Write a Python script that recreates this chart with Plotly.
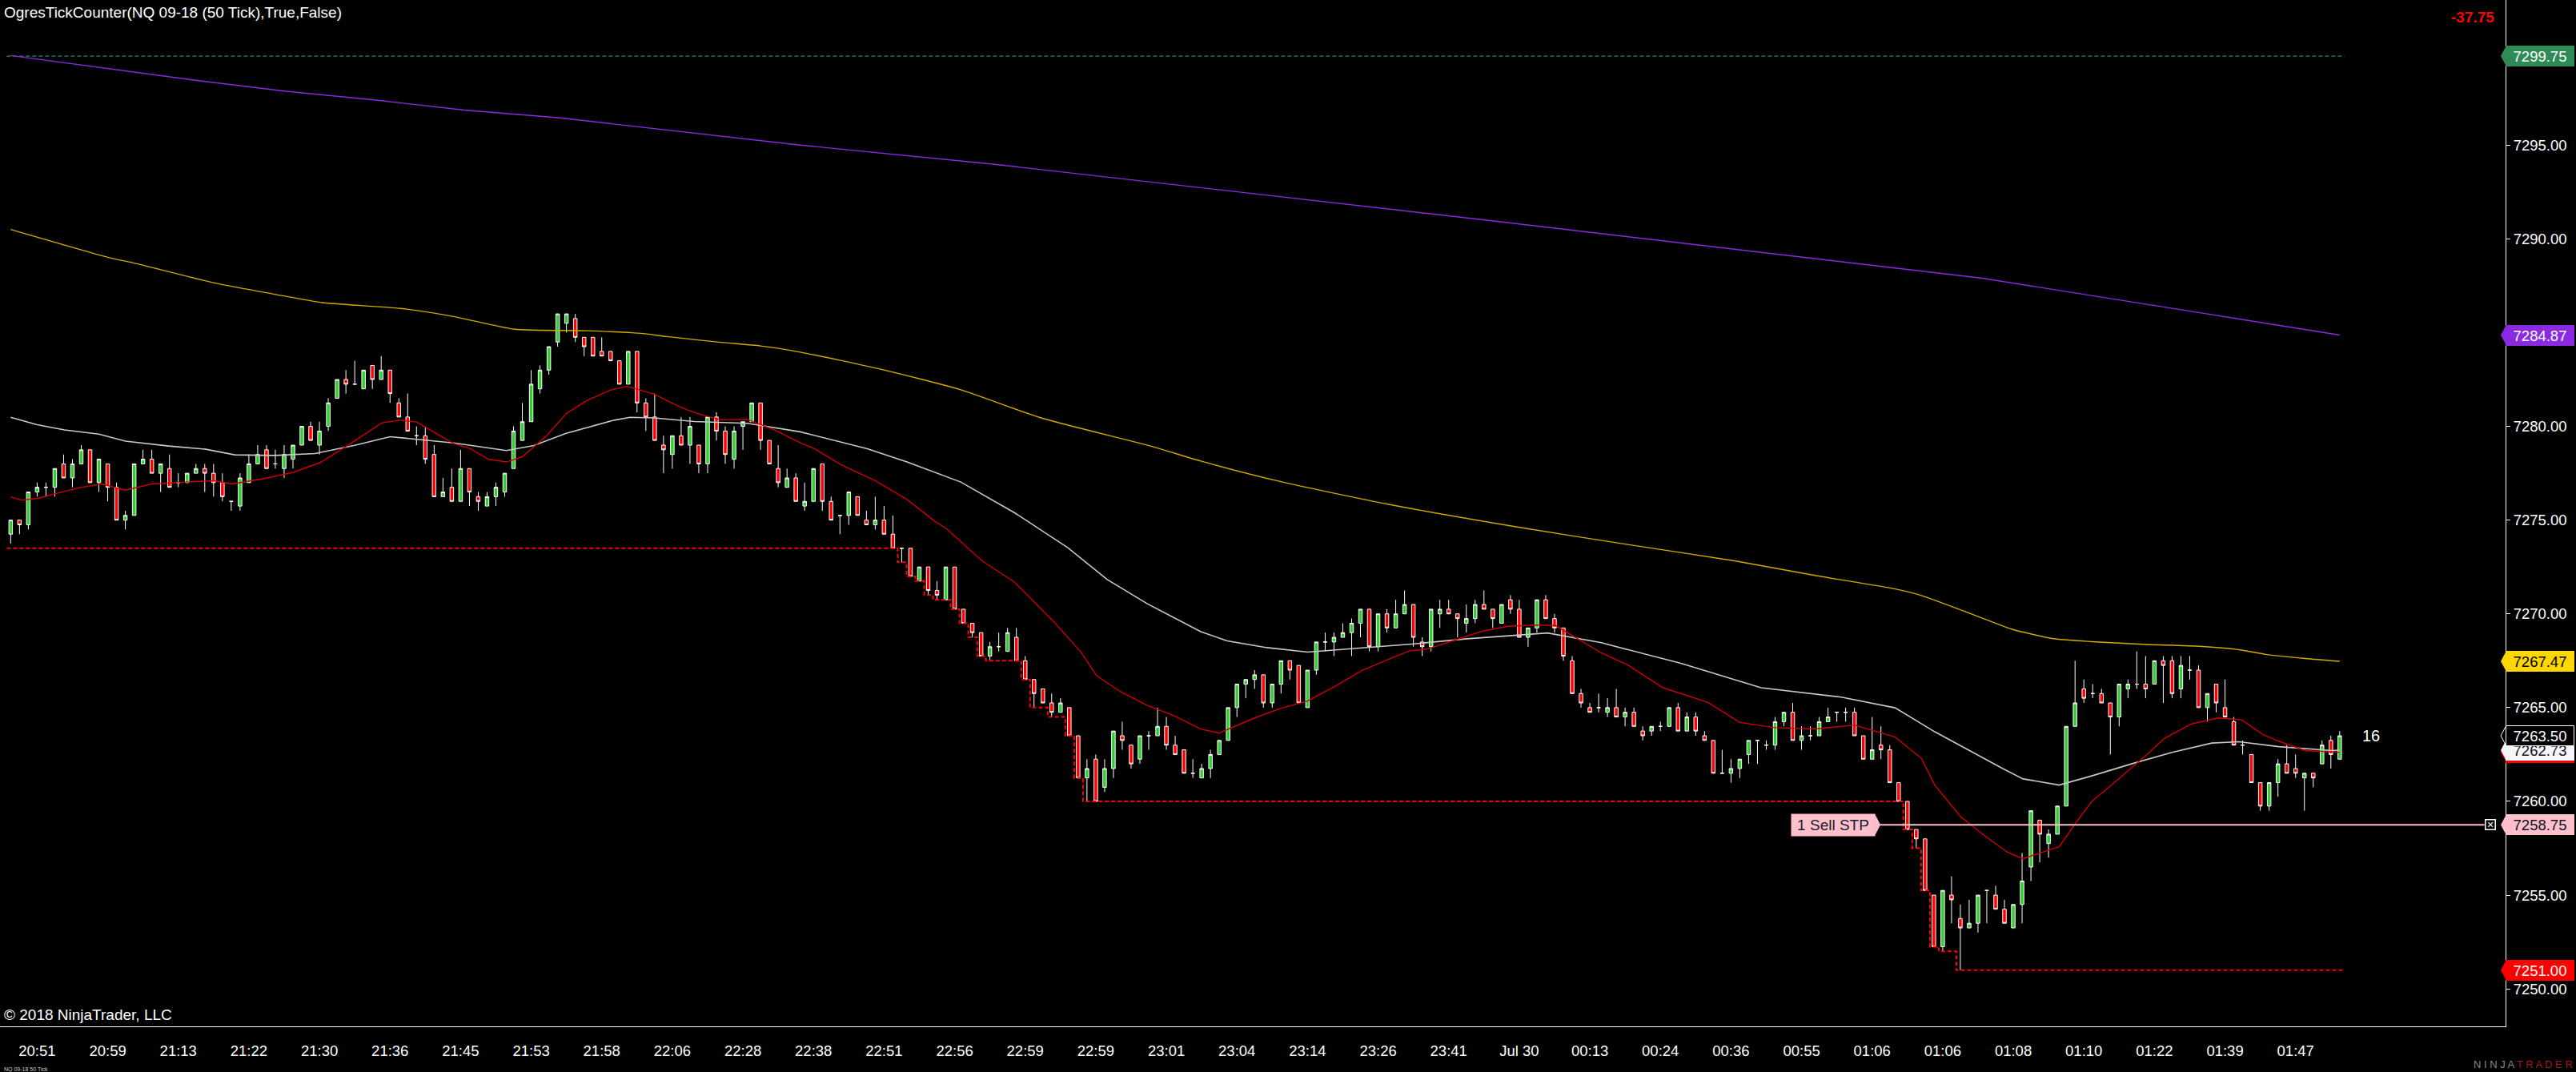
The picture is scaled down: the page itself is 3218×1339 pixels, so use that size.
import plotly.graph_objects as go

FONT = "Arial, Liberation Sans, sans-serif"

# NQ 09-18, 50 tick bars
OPENS = [
    7274.25, 7275.0, 7274.75, 7276.5, 7276.75, 7276.75, 7278.0, 7277.25, 7278.0, 7278.75,
    7277.0, 7278.0, 7276.75, 7275.0, 7275.25, 7278.0, 7278.25, 7277.5, 7277.75, 7277.0,
    7277.0, 7277.5, 7277.75, 7277.5, 7277.0, 7276.0, 7275.75, 7277.0, 7278.0, 7278.75,
    7278.0, 7277.75, 7278.25, 7279.0, 7280.0, 7279.0, 7280.0, 7281.5, 7282.5, 7282.25,
    7282.0, 7283.25, 7282.5, 7283.0, 7281.25, 7280.5, 7279.5, 7279.5, 7278.5, 7276.25,
    7276.75, 7276.0, 7277.75, 7276.25, 7275.75, 7276.25, 7276.5, 7277.75, 7279.25, 7280.25,
    7282.0, 7283.0, 7284.5, 7285.5, 7285.75, 7284.75, 7284.75, 7284.0, 7284.0, 7283.5,
    7282.25, 7284.0, 7281.25, 7280.5, 7279.0, 7278.5, 7279.5, 7279.0, 7279.0, 7278.0,
    7280.5, 7279.75, 7278.25, 7280.0, 7280.25, 7281.25, 7279.25, 7277.75, 7276.75, 7277.25,
    7275.75, 7276.0, 7278.0, 7276.0, 7275.25, 7275.25, 7276.25, 7275.0, 7274.75, 7275.0,
    7274.25, 7273.5, 7273.5, 7271.75, 7272.5, 7271.25, 7270.75, 7272.5, 7270.25, 7269.5,
    7269.0, 7267.75, 7268.25, 7268.0, 7268.75, 7267.5, 7266.5, 7266.0, 7265.25, 7264.75,
    7265.0, 7263.5, 7261.25, 7262.25, 7260.75, 7261.75, 7263.5, 7263.0, 7262.25, 7263.5,
    7263.5, 7264.0, 7263.0, 7262.75, 7261.5, 7261.25, 7261.75, 7262.5, 7263.25, 7265.0,
    7266.25, 7266.5, 7266.75, 7265.25, 7266.25, 7267.5, 7267.25, 7265.0, 7267.0, 7268.5,
    7268.5, 7268.75, 7269.0, 7269.5, 7270.25, 7268.25, 7270.0, 7269.25, 7270.0, 7270.5,
    7268.5, 7268.25, 7270.0, 7270.25, 7270.0, 7269.5, 7269.75, 7270.5, 7270.25, 7269.5,
    7270.75, 7270.25, 7268.75, 7269.25, 7270.75, 7269.75, 7269.25, 7267.5, 7265.75, 7265.0,
    7265.0, 7264.75, 7265.0, 7264.5, 7264.75, 7263.75, 7263.75, 7264.0, 7264.0, 7265.0,
    7263.75, 7264.5, 7263.5, 7263.25, 7261.5, 7261.5, 7261.75, 7262.5, 7263.25, 7263.0,
    7263.0, 7264.25, 7264.75, 7263.25, 7263.5, 7263.5, 7264.25, 7264.75, 7264.75, 7264.75,
    7263.5, 7262.25, 7263.0, 7262.75, 7261.0, 7260.0, 7258.5, 7258.0, 7255.0, 7252.25,
    7255.0, 7253.75, 7253.25, 7253.5, 7255.25, 7255.0, 7254.25, 7253.25, 7254.5, 7256.5,
    7259.0, 7257.75, 7258.25, 7259.75, 7264.0, 7266.0, 7265.75, 7265.75, 7265.25, 7264.5,
    7266.0, 7266.25, 7266.25, 7266.25, 7267.5, 7267.5, 7266.0, 7267.0, 7267.0, 7265.0,
    7266.25, 7265.0, 7264.25, 7263.0, 7262.5, 7261.0, 7259.75, 7261.0, 7262.0, 7261.75,
    7261.25, 7261.5, 7262.0, 7263.25, 7262.25,
]
HIGHS = [
    7275.0, 7275.0, 7276.5, 7277.0, 7277.0, 7277.75, 7278.5, 7278.25, 7279.0, 7278.75,
    7278.25, 7278.0, 7277.0, 7275.5, 7278.0, 7278.75, 7278.75, 7278.0, 7278.5, 7277.5,
    7277.5, 7278.0, 7278.0, 7278.0, 7277.5, 7276.0, 7277.5, 7278.5, 7279.0, 7279.0,
    7278.75, 7279.0, 7279.0, 7280.0, 7280.25, 7280.25, 7281.5, 7282.5, 7283.0, 7283.5,
    7283.0, 7283.25, 7283.75, 7283.0, 7281.5, 7281.75, 7280.0, 7280.0, 7279.0, 7277.25,
    7277.75, 7278.75, 7277.75, 7276.5, 7276.5, 7277.0, 7277.5, 7280.0, 7281.25, 7283.0,
    7283.25, 7284.25, 7286.0, 7286.0, 7286.0, 7284.75, 7284.75, 7284.75, 7284.0, 7283.5,
    7284.0, 7284.0, 7281.5, 7281.75, 7279.5, 7279.5, 7280.5, 7280.5, 7279.0, 7280.5,
    7280.75, 7280.0, 7280.0, 7280.25, 7281.25, 7281.25, 7279.25, 7279.0, 7277.75, 7277.5,
    7277.0, 7277.75, 7278.0, 7276.25, 7275.25, 7276.5, 7276.25, 7275.5, 7276.25, 7275.75,
    7275.25, 7273.5, 7273.5, 7272.5, 7272.5, 7271.75, 7272.5, 7272.5, 7270.25, 7269.5,
    7269.0, 7268.5, 7269.0, 7269.25, 7269.25, 7267.75, 7266.5, 7266.0, 7265.75, 7265.5,
    7265.0, 7263.5, 7262.25, 7262.5, 7262.25, 7263.75, 7264.25, 7263.0, 7263.5, 7263.75,
    7265.0, 7264.5, 7263.5, 7262.75, 7262.25, 7262.0, 7262.75, 7263.25, 7265.0, 7266.25,
    7266.5, 7267.0, 7266.75, 7266.25, 7267.5, 7267.5, 7267.25, 7267.0, 7268.5, 7269.0,
    7269.0, 7269.5, 7269.75, 7270.25, 7270.25, 7270.0, 7270.25, 7270.75, 7271.25, 7270.5,
    7268.75, 7270.25, 7270.75, 7270.75, 7270.0, 7270.5, 7270.75, 7271.25, 7270.25, 7270.5,
    7271.0, 7270.75, 7269.25, 7270.75, 7271.0, 7270.0, 7269.25, 7267.75, 7266.0, 7265.25,
    7265.75, 7265.5, 7266.0, 7265.0, 7265.0, 7264.0, 7264.0, 7264.25, 7265.0, 7265.25,
    7264.75, 7264.75, 7263.75, 7263.25, 7262.75, 7262.25, 7262.25, 7263.25, 7263.25, 7263.25,
    7264.5, 7264.75, 7265.25, 7264.0, 7264.0, 7264.5, 7265.0, 7264.75, 7265.0, 7265.0,
    7263.5, 7264.5, 7264.0, 7263.0, 7261.0, 7260.0, 7258.5, 7258.0, 7255.0, 7255.25,
    7256.0, 7254.5, 7254.75, 7255.0, 7255.25, 7255.5, 7254.75, 7254.5, 7257.25, 7259.5,
    7259.0, 7258.5, 7259.75, 7264.0, 7267.5, 7266.5, 7266.25, 7266.0, 7265.25, 7266.25,
    7266.5, 7268.0, 7267.75, 7267.5, 7267.75, 7267.75, 7267.75, 7267.75, 7267.25, 7265.75,
    7266.25, 7266.5, 7264.5, 7263.25, 7262.5, 7261.0, 7261.0, 7262.25, 7263.0, 7262.5,
    7261.5, 7261.5, 7263.25, 7263.5, 7263.75,
]
LOWS = [
    7273.75, 7274.25, 7274.5, 7276.25, 7276.25, 7276.25, 7277.25, 7276.75, 7278.0, 7277.0,
    7276.5, 7276.0, 7275.0, 7274.5, 7275.25, 7278.0, 7277.5, 7276.5, 7276.75, 7276.75,
    7277.0, 7277.5, 7276.5, 7276.25, 7276.0, 7275.5, 7275.5, 7277.0, 7278.0, 7277.75,
    7277.75, 7277.25, 7277.75, 7279.0, 7279.25, 7278.5, 7279.75, 7281.5, 7281.75, 7282.25,
    7282.0, 7282.0, 7282.5, 7281.25, 7280.5, 7279.75, 7279.0, 7278.0, 7276.25, 7276.25,
    7276.0, 7276.0, 7275.75, 7275.5, 7275.75, 7275.75, 7276.25, 7277.75, 7279.25, 7280.25,
    7281.75, 7282.75, 7284.25, 7285.0, 7284.5, 7283.75, 7283.75, 7283.75, 7283.5, 7282.25,
    7282.25, 7280.75, 7279.75, 7279.25, 7277.5, 7277.75, 7279.0, 7278.0, 7277.5, 7277.5,
    7279.25, 7278.0, 7277.75, 7278.75, 7280.25, 7278.75, 7278.0, 7276.75, 7276.75, 7276.0,
    7275.5, 7276.0, 7275.5, 7275.0, 7274.25, 7274.75, 7275.25, 7274.75, 7274.5, 7274.25,
    7273.5, 7272.75, 7272.0, 7271.75, 7271.0, 7270.75, 7270.75, 7270.25, 7269.5, 7268.75,
    7267.75, 7267.5, 7268.0, 7268.0, 7267.5, 7266.5, 7265.0, 7265.25, 7264.5, 7264.75,
    7263.5, 7261.25, 7260.0, 7260.0, 7260.5, 7261.25, 7262.75, 7261.75, 7262.0, 7262.75,
    7263.5, 7262.75, 7262.5, 7261.5, 7261.25, 7261.25, 7261.25, 7262.5, 7263.25, 7264.5,
    7265.5, 7266.0, 7265.0, 7265.0, 7265.75, 7266.5, 7265.25, 7265.0, 7266.75, 7268.0,
    7267.75, 7268.75, 7267.75, 7268.75, 7268.0, 7268.0, 7269.0, 7269.25, 7270.0, 7268.25,
    7267.75, 7268.0, 7269.25, 7270.0, 7268.75, 7269.0, 7269.5, 7270.25, 7269.25, 7269.5,
    7270.0, 7268.75, 7268.25, 7269.0, 7269.75, 7269.0, 7267.5, 7265.75, 7265.0, 7264.75,
    7264.75, 7264.5, 7264.5, 7264.0, 7264.0, 7263.25, 7263.5, 7263.75, 7264.0, 7263.75,
    7263.75, 7263.5, 7263.25, 7261.5, 7261.5, 7261.0, 7261.25, 7262.0, 7262.0, 7262.75,
    7262.75, 7264.0, 7263.25, 7262.75, 7263.25, 7263.5, 7264.25, 7264.25, 7264.25, 7263.5,
    7262.25, 7262.25, 7262.25, 7261.0, 7260.0, 7258.5, 7257.5, 7255.25, 7252.25, 7252.0,
    7253.5, 7251.0, 7253.25, 7253.0, 7253.5, 7254.25, 7253.5, 7253.25, 7253.5, 7255.75,
    7256.75, 7257.0, 7258.25, 7259.75, 7264.0, 7265.25, 7265.5, 7265.25, 7262.5, 7264.0,
    7265.5, 7266.0, 7265.5, 7266.25, 7265.25, 7265.5, 7265.5, 7266.5, 7265.0, 7264.25,
    7264.75, 7264.5, 7263.0, 7262.5, 7261.0, 7259.5, 7259.5, 7260.25, 7261.5, 7261.25,
    7259.5, 7260.75, 7262.0, 7261.75, 7262.25,
]
CLOSES = [
    7275.0, 7274.75, 7276.5, 7276.75, 7276.75, 7277.75, 7277.25, 7278.0, 7278.75, 7277.0,
    7278.25, 7276.75, 7275.0, 7275.25, 7278.0, 7278.25, 7277.5, 7278.0, 7276.75, 7277.0,
    7277.5, 7277.75, 7277.5, 7277.0, 7276.25, 7276.0, 7277.25, 7278.0, 7278.5, 7277.75,
    7278.0, 7278.5, 7279.0, 7280.0, 7279.25, 7279.75, 7281.25, 7282.5, 7282.25, 7282.25,
    7283.0, 7282.5, 7283.0, 7281.75, 7280.5, 7279.75, 7279.5, 7278.25, 7276.25, 7276.5,
    7276.0, 7277.75, 7276.5, 7276.0, 7276.25, 7276.75, 7277.5, 7279.75, 7280.25, 7282.25,
    7283.0, 7284.25, 7286.0, 7286.0, 7284.75, 7284.25, 7283.75, 7283.75, 7283.5, 7282.25,
    7284.0, 7281.25, 7280.5, 7279.25, 7278.75, 7279.5, 7279.0, 7280.0, 7278.0, 7280.5,
    7279.75, 7278.5, 7279.75, 7280.25, 7281.25, 7279.25, 7278.0, 7277.0, 7277.25, 7276.0,
    7276.0, 7277.75, 7276.0, 7275.0, 7275.25, 7276.5, 7275.25, 7274.75, 7275.0, 7274.25,
    7273.5, 7273.5, 7272.0, 7272.5, 7271.25, 7271.0, 7272.5, 7270.25, 7269.5, 7269.0,
    7267.75, 7268.25, 7268.25, 7269.0, 7267.5, 7266.5, 7265.75, 7265.25, 7264.75, 7265.25,
    7263.5, 7261.25, 7261.75, 7260.0, 7261.75, 7263.75, 7263.25, 7262.0, 7263.5, 7263.5,
    7264.0, 7263.0, 7262.5, 7261.5, 7261.5, 7261.75, 7262.5, 7263.25, 7265.0, 7266.25,
    7266.5, 7266.75, 7265.25, 7266.25, 7267.5, 7267.0, 7265.25, 7267.0, 7268.5, 7268.5,
    7268.75, 7269.0, 7269.5, 7270.25, 7268.25, 7270.0, 7269.25, 7270.0, 7270.5, 7268.75,
    7268.25, 7270.25, 7270.25, 7270.0, 7269.75, 7269.75, 7270.5, 7270.25, 7269.75, 7270.5,
    7270.25, 7268.75, 7269.25, 7270.75, 7269.75, 7269.25, 7267.75, 7265.75, 7265.25, 7264.75,
    7265.0, 7265.0, 7264.5, 7264.75, 7264.0, 7263.5, 7264.0, 7264.0, 7265.0, 7263.75,
    7264.5, 7263.75, 7263.25, 7261.5, 7261.5, 7261.75, 7262.25, 7263.25, 7263.25, 7263.0,
    7264.25, 7264.75, 7263.25, 7263.5, 7263.5, 7264.25, 7264.5, 7264.75, 7264.75, 7263.5,
    7262.25, 7262.75, 7262.75, 7261.0, 7260.0, 7258.5, 7258.0, 7255.25, 7252.25, 7255.25,
    7254.75, 7253.25, 7253.5, 7255.0, 7255.25, 7254.25, 7253.5, 7254.5, 7255.75, 7259.5,
    7258.25, 7258.25, 7259.75, 7264.0, 7265.25, 7265.5, 7265.75, 7265.25, 7264.5, 7266.25,
    7266.25, 7266.25, 7266.0, 7267.5, 7267.25, 7265.75, 7267.25, 7267.0, 7265.0, 7265.75,
    7265.25, 7264.5, 7263.0, 7263.0, 7261.0, 7259.75, 7261.0, 7262.0, 7261.5, 7261.5,
    7261.5, 7261.25, 7263.0, 7262.5, 7263.5,
]

TIME_LABELS = [
    "20:51", "20:59", "21:13", "21:22", "21:30", "21:36", "21:45", "21:53", "21:58",
    "22:06", "22:28", "22:38", "22:51", "22:56", "22:59", "22:59", "23:01", "23:04",
    "23:14", "23:26", "23:41", "Jul 30", "00:13", "00:24", "00:36", "00:55", "01:06",
    "01:06", "01:08", "01:10", "01:22", "01:39", "01:47",
]
TIME_LABEL_BARS = list(range(3, 265, 8))

# moving averages, read at bar positions
FAST_MA_BARS = [
    0, 1.2, 3.1, 4.9, 7.9, 10.3, 13.0, 16.0, 20.0, 23.0, 25.1, 29.0, 32.1, 35.1, 38.1,
    42.1, 44.2, 46.0, 48.1, 50.2, 52.1, 54.2, 56.2, 58.0, 60.8, 63.0, 65.3, 68.0, 69.9,
    72.9, 74.4, 76.2, 78.0, 80.5, 83.5, 86.6, 89.5, 91.1, 94.1, 98.0, 101.6, 104.7,
    106.1, 110.1, 113.8, 118.3, 121.3, 123.1, 125.8, 128.8, 131.9, 134.9, 137.0, 141.0,
    144.0, 147.0, 150.1, 153.1, 156.1, 158.5, 160.6, 163.7, 166.7, 169.7, 172.7, 175.1,
    177.3, 180.3, 183.3, 187.3, 192.4, 196.0, 200.0, 204.5, 209.0, 213.6, 216.6, 218.1,
    221.1, 223.8, 226.3, 228.1, 229.9, 232.2, 234.1, 235.9, 238.1, 242.0, 244.1, 247.2,
    250.2, 252.9, 255.3, 257.1, 260.1, 263.1, 264,
]
FAST_MA = [
    7276.24, 7276.07, 7276.16, 7276.39, 7276.74, 7276.93, 7276.60, 7276.93, 7277.03,
    7277.10, 7276.93, 7277.24, 7277.56, 7278.07, 7278.95, 7280.19, 7280.34, 7280.23,
    7279.66, 7279.09, 7278.81, 7278.24, 7278.10, 7278.38, 7279.52, 7280.69, 7281.37,
    7281.94, 7282.13, 7281.73, 7281.37, 7280.97, 7280.66, 7280.35, 7280.37, 7279.81,
    7279.12, 7278.81, 7277.96, 7277.10, 7276.10, 7274.96, 7274.54, 7272.83, 7271.69,
    7269.55, 7267.98, 7266.70, 7265.85, 7265.13, 7264.56, 7263.86, 7263.64, 7264.45,
    7264.97, 7265.35, 7266.13, 7266.96, 7267.56, 7268.02, 7268.13, 7268.59, 7269.06,
    7269.34, 7269.41, 7269.38, 7268.77, 7267.92, 7267.27, 7266.06, 7265.28, 7264.21,
    7263.93, 7263.86, 7264.07, 7263.43, 7262.29, 7260.86, 7259.15, 7258.15, 7257.30,
    7256.94, 7257.23, 7257.58, 7258.86, 7260.00, 7260.86, 7262.43, 7263.35, 7264.13,
    7264.45, 7264.35, 7263.56, 7263.21, 7262.71, 7262.64, 7262.62,
]
MID_MA_BARS = [
    0, 3.0, 6.1, 10.0, 13.0, 17.9, 22.1, 25.4, 29.9, 34.5, 39.0, 43.0, 50.2, 56.2, 59.3,
    62.9, 68.4, 70.2, 72.9, 77.5, 83.5, 89.5, 97.1, 101.6, 107.7, 113.8, 119.8, 124.3,
    128.8, 134.9, 137.9, 142.4, 147.0, 153.1, 159.1, 165.1, 171.2, 174.2, 180.3, 189.4,
    198.4, 207.5, 213.6, 218.1, 225.6, 228.1, 232.2, 235.9, 240.4, 245.0, 249.5, 252.6,
    257.1, 263.1, 264,
]
MID_MA = [
    7280.48, 7280.09, 7279.81, 7279.59, 7279.21, 7278.95, 7278.78, 7278.48, 7278.45,
    7278.55, 7278.99, 7279.45, 7279.12, 7278.71, 7278.98, 7279.62, 7280.33, 7280.48,
    7280.45, 7280.26, 7280.16, 7279.71, 7278.81, 7278.10, 7277.03, 7275.39, 7273.54,
    7271.83, 7270.55, 7269.05, 7268.56, 7268.20, 7267.96, 7268.17, 7268.40, 7268.67,
    7268.87, 7268.98, 7268.46, 7267.35, 7266.06, 7265.56, 7264.99, 7263.71, 7261.80,
    7261.20, 7260.87, 7261.36, 7262.00, 7262.61, 7263.11, 7263.18, 7262.92, 7262.71,
    7262.73,
]
SLOW_MA_BARS = [
    0, 11.0, 14.0, 23.1, 32.1, 35.3, 44.2, 50.2, 57.1, 65.3, 71.4, 74.4, 80.5, 85.0,
    89.5, 98.6, 107.7, 116.8, 129.2, 134.9, 144.0, 156.1, 171.2, 183.3, 195.4, 204.5,
    213.6, 216.6, 223.8, 226.8, 231.4, 235.9, 242.0, 248.1, 252.6, 255.6, 260.1, 264,
]
SLOW_MA = [
    7290.50, 7289.02, 7288.71, 7287.65, 7286.86, 7286.60, 7286.29, 7285.86, 7285.18,
    7285.10, 7284.96, 7284.79, 7284.48, 7284.29, 7283.96, 7283.05, 7281.95, 7280.45,
    7278.95, 7278.15, 7277.05, 7275.85, 7274.60, 7273.70, 7272.83, 7272.05, 7271.33,
    7270.98, 7269.72, 7269.19, 7268.69, 7268.52, 7268.37, 7268.27, 7268.09, 7267.84,
    7267.62, 7267.47,
]
LONG_MA_BARS = [0, 11.0, 21.1, 31.2, 41.4, 51.4, 62.3, 89.5, 111.1, 167.3, 223.5, 248.3, 264]
LONG_MA = [
    7299.78, 7299.07, 7298.45, 7297.87, 7297.40, 7296.87, 7296.45, 7295.00, 7294.00,
    7291.00, 7287.90, 7286.05, 7284.87,
]

PRIOR_HIGH = 7299.75
PRIOR_LOW = 7273.5
STOP_PRICE = 7258.75
PNL_TEXT = "-37.75"
TICKS_REMAINING = "16"

Y_RANGE = [7248.0, 7302.74]
X_RANGE = [-1.21, 282.8]

n = len(CLOSES)
bars = list(range(n))

run_high, run_low = [], []
hi, lo = PRIOR_HIGH, PRIOR_LOW
for h, l in zip(HIGHS, LOWS):
    hi = max(hi, h)
    lo = min(lo, l)
    run_high.append(hi)
    run_low.append(lo)
step_x = [b - 0.45 for b in bars] + [n - 1 + 0.55]

fig = go.Figure()

fig.add_trace(go.Scatter(x=step_x, y=run_high + [run_high[-1]], mode="lines",
                         line=dict(color="#2E8B57", width=1.2, dash="5px,3px", shape="hv"),
                         hoverinfo="skip"))
fig.add_trace(go.Scatter(x=step_x, y=run_low + [run_low[-1]], mode="lines",
                         line=dict(color="#FF0000", width=2, dash="5px,3px", shape="hv"),
                         hoverinfo="skip"))

fig.add_trace(go.Scatter(x=LONG_MA_BARS, y=LONG_MA, mode="lines",
                         line=dict(color="#8A2BE2", width=1.4), hoverinfo="skip"))
fig.add_trace(go.Scatter(x=SLOW_MA_BARS, y=SLOW_MA, mode="lines",
                         line=dict(color="#D4AA00", width=1.4, shape="spline", smoothing=0.6),
                         hoverinfo="skip"))
fig.add_trace(go.Scatter(x=MID_MA_BARS, y=MID_MA, mode="lines",
                         line=dict(color="#C8C8C8", width=1.6), hoverinfo="skip"))
fig.add_trace(go.Scatter(x=FAST_MA_BARS, y=FAST_MA, mode="lines",
                         line=dict(color="#D00000", width=1.4), hoverinfo="skip"))

fig.add_trace(go.Candlestick(
    x=bars, open=OPENS, high=HIGHS, low=LOWS, close=CLOSES,
    increasing=dict(fillcolor="#32CD32", line=dict(color="white", width=1)),
    decreasing=dict(fillcolor="#FF0000", line=dict(color="white", width=1)),
    whiskerwidth=0, hoverinfo="skip",
))

# order line for the sell stop
stp_right = 211.4
fig.add_shape(type="line", xref="x", yref="y", x0=stp_right + 0.5, x1=280.4,
              y0=STOP_PRICE, y1=STOP_PRICE, line=dict(color="#FFC0CB", width=2))
fig.add_shape(type="path", xref="x", yref="y", xsizemode="pixel", ysizemode="pixel",
              xanchor=stp_right, yanchor=STOP_PRICE, path="M -1,13.5 L 6,0 L -1,-13.5 Z",
              fillcolor="#FFC0CB", line=dict(width=0))
fig.add_annotation(x=stp_right, y=STOP_PRICE, xref="x", yref="y", xanchor="right",
                   yanchor="middle", text="1 Sell STP", showarrow=False,
                   font=dict(family=FONT, size=19, color="#1c1c30"),
                   bgcolor="#FFC0CB", width=98, height=21, borderpad=3)
fig.add_annotation(x=281.05, y=STOP_PRICE, xref="x", yref="y", text="<b>✕</b>",
                   showarrow=False, font=dict(family="DejaVu Sans", size=11, color="white"),
                   bgcolor="black", bordercolor="white", borderwidth=1.5,
                   width=11, height=11, borderpad=0)

# price markers on the axis
ma_fast_last, ma_mid_last = FAST_MA[-1], MID_MA[-1]
markers = [
    (run_high[-1], "#2E8B57", "white", None),
    (LONG_MA[-1], "#8A2BE2", "white", None),
    (SLOW_MA[-1], "#FFD700", "black", None),
    (ma_fast_last, "#FF0000", "white", None),
    (ma_mid_last, "#F5F5FA", "#101020", None),
    (CLOSES[-1], "black", "white", "white"),
    (STOP_PRICE, "#FFC0CB", "#101020", None),
    (run_low[-1], "#FF0000", "white", None),
]
span = Y_RANGE[1] - Y_RANGE[0]
for val, bg, fg, border in markers:
    fig.add_shape(type="path", xref="paper", yref="paper", xsizemode="pixel",
                  ysizemode="pixel", xanchor=1, yanchor=(val - Y_RANGE[0]) / span,
                  path="M 1,13 L -6,0 L 1,-13 Z", fillcolor=bg,
                  line=dict(color=border or bg, width=1 if border else 0))
    fig.add_annotation(x=1, y=val, xref="paper", yref="y", xanchor="left", yanchor="middle",
                       text=f"{val:.2f}", showarrow=False,
                       font=dict(family=FONT, size=18.5, color=fg),
                       bgcolor=bg, bordercolor=border or bg, borderwidth=1,
                       width=80, height=20, borderpad=2)

fig.add_annotation(x=n - 1, y=CLOSES[-1], xref="x", yref="y", xshift=39, text=TICKS_REMAINING,
                   showarrow=False, font=dict(family=FONT, size=20, color="white"))

fig.add_annotation(x=0, y=1, xref="paper", yref="paper", xanchor="left", yanchor="top",
                   xshift=3, yshift=-3, showarrow=False,
                   text="OgresTickCounter(NQ 09-18 (50 Tick),True,False)",
                   font=dict(family=FONT, size=19, color="white"))
fig.add_annotation(x=1, y=1, xref="paper", yref="paper", xanchor="right", yanchor="middle",
                   xshift=-12, yshift=-21, showarrow=False, text=f"<b>{PNL_TEXT}</b>",
                   font=dict(family=FONT, size=19, color="#FF0000"))
fig.add_annotation(x=0, y=0, xref="paper", yref="paper", xanchor="left", yanchor="bottom",
                   xshift=3, yshift=2, showarrow=False, text="© 2018 NinjaTrader, LLC",
                   font=dict(family=FONT, size=19, color="white"))
fig.add_annotation(x=0, y=0, xref="paper", yref="paper", xanchor="left", yanchor="top",
                   xshift=3, yshift=-48, showarrow=False, text="NQ 09-18 50 Tick",
                   font=dict(family=FONT, size=7, color="#cccccc"))
fig.add_annotation(x=1, y=0, xref="paper", yref="paper", xanchor="right", yanchor="middle",
                   xshift=86, yshift=-47, showarrow=False,
                   text="<span style='color:#8a8a8a'>N I N J A </span>"
                        "<span style='color:#a01c1c'>T R A D E R</span>",
                   font=dict(family=FONT, size=13))

ytick_vals = [v for v in range(7250, 7305, 5)
              if all(abs(v - m[0]) > 0.5 for m in markers)]

fig.update_layout(
    width=3218, height=1339, autosize=False,
    margin=dict(l=0, r=88, t=0, b=57),
    paper_bgcolor="black", plot_bgcolor="black",
    showlegend=False, boxgap=0.42,
    font=dict(family=FONT, color="white"),
    xaxis=dict(range=X_RANGE, showgrid=False, zeroline=False, showline=True,
               linecolor="white", linewidth=1, ticks="", tickvals=TIME_LABEL_BARS,
               ticktext=TIME_LABELS, tickfont=dict(family=FONT, size=18.5, color="white"),
               ticklabelstandoff=14, rangeslider=dict(visible=False)),
    yaxis=dict(range=Y_RANGE, side="right", showgrid=False, zeroline=False, showline=True,
               linecolor="white", linewidth=1, ticks="outside", ticklen=5,
               tickcolor="white", tickvals=ytick_vals, tickformat=".2f",
               tickfont=dict(family=FONT, size=18.5, color="white")),
)

fig.write_html("out.html", config={"displayModeBar": False},
               post_script="document.body.style.margin='0';document.body.style.overflow='hidden';")
